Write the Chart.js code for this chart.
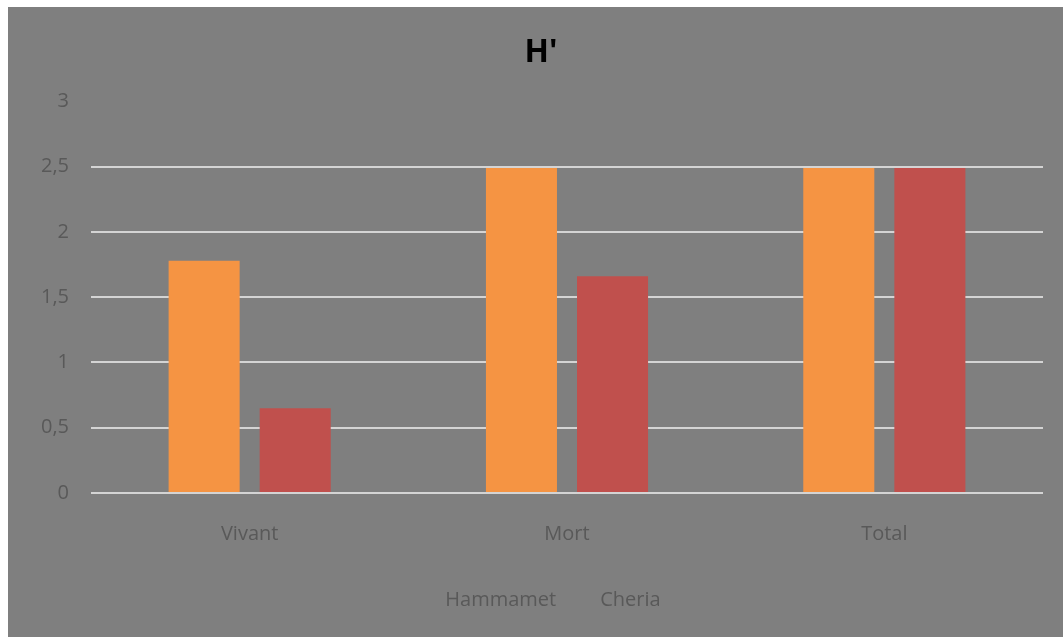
<!DOCTYPE html>
<html>
<head>
<meta charset="utf-8">
<script src="https://cdn.jsdelivr.net/npm/chart.js@4"></script>
<style>
  html, body { margin: 0; padding: 0; background: #ffffff; }
  #wrap { position: absolute; left: 8px; top: 7px; width: 1055px; height: 630px; background: #7f7f7f; }
</style>
</head>
<body>
<div id="wrap"><canvas id="hChart" width="1055" height="630"></canvas></div>
<script>
const categories = ['Vivant', 'Mort', 'Total'];
const seriesNames = ['Hammamet', 'Cheria'];
const hammamet = [1.78, 2.49, 2.49];
const cheria = [0.65, 1.66, 2.49];
const yTicks = [0, 0.5, 1, 1.5, 2, 2.5, 3];

const textGrey = '#595959';
const font = 'Open Sans, Noto Sans, sans-serif';

function createHChart() {
  const ctx = document.getElementById('hChart').getContext('2d');
  const chart = new Chart(ctx, {
    type: 'bar',
    data: {
      labels: categories,
      datasets: [
        {
          label: seriesNames[0],
          data: hammamet,
          backgroundColor: '#f59443',
          borderWidth: 0,
        },
        {
          label: seriesNames[1],
          data: cheria,
          backgroundColor: '#c0504d',
          borderWidth: 0,
        },
      ],
    },
    options: {
      responsive: false,
      animation: false,
      categoryPercentage: 0.574,
      barPercentage: 0.78,
      layout: { padding: { left: 31, right: 20, top: 0, bottom: 17 } },
      plugins: {
        title: {
          display: true,
          text: "H'",
          color: '#000000',
          font: { family: font, size: 32, weight: 'bold' },
          padding: { top: 27, bottom: 29 },
        },
        legend: {
          position: 'bottom',
          labels: {
            color: textGrey,
            font: { family: font, size: 20 },
            boxWidth: 14,
            padding: 20,
            generateLabels: (c) => Chart.defaults.plugins.legend.labels.generateLabels(c)
              .map(l => ({ ...l, fillStyle: 'rgba(0,0,0,0)', strokeStyle: 'rgba(0,0,0,0)', lineWidth: 0 })),
          },
        },
        tooltip: { enabled: false },
      },
      scales: {
        x: {
          grid: { display: false },
          border: { display: false },
          afterFit: (scale) => { scale.height += 3; },
          ticks: { color: textGrey, font: { family: font, size: 20 }, padding: 21 },
        },
        y: {
          min: 0,
          max: 3,
          afterBuildTicks: (scale) => { scale.ticks = yTicks.map(v => ({ value: v })); },
          afterFit: (scale) => { scale.width = 52; },
          border: { display: false },
          grid: {
            drawTicks: false,
            lineWidth: 2,
            color: (c) => (c.tick && c.tick.value === 3 ? 'rgba(0,0,0,0)' : '#d4d4d4'),
          },
          ticks: {
            color: textGrey,
            font: { family: font, size: 20 },
            padding: 22,
            callback: (v) => String(v).replace('.', ','),
          },
        },
      },
    },
  });
  return chart;
}

createHChart();
</script>
</body>
</html>
